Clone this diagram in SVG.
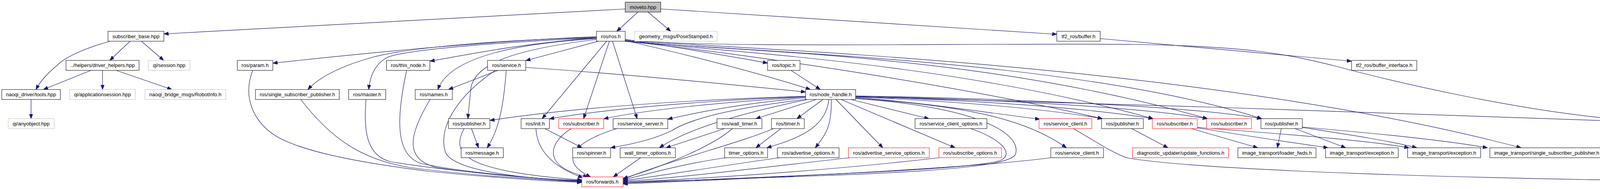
<svg xmlns="http://www.w3.org/2000/svg" width="4652" height="485" viewBox="0 0 4652 485">
<defs>
<marker id="a" markerWidth="13" markerHeight="10" refX="12" refY="4.5" orient="auto" markerUnits="userSpaceOnUse"><path d="M0,0 L12,4.5 L0,9 z" fill="#191970" stroke="#191970" stroke-width="1"/></marker>
<style>
.e path{fill:none;stroke:#191970;stroke-width:1.2;marker-end:url(#a)}
.node rect{fill:#fff;stroke:#000;stroke-width:1}
.node.g rect{stroke:#bfbfbf}
.node.r rect{stroke:#ff0000}
.node.m rect{fill:#bfbfbf}
.node text{font-family:"Liberation Sans",Arial,sans-serif;font-size:13px;text-anchor:middle;fill:#000}
</style>
</defs>
<rect x="0" y="0" width="4652" height="485" fill="#fff"/>
<g id="edges" class="e">
<path d="M1600.5,23 L419.5,87"/>
<path d="M1633,31 L1579,80.25"/>
<path d="M1659,31 L1717,80.25"/>
<path d="M1692,23 L2705.5,88"/>
<path d="M333,105.75 L281,155"/>
<path d="M362,105.75 L419,155"/>
<path d="M282,105.75 C230,120 180,140 155,160 C125,185 105,205 92,229.75"/>
<path d="M233,180.5 L111,229.75"/>
<path d="M262.5,180.5 L262.5,229.75"/>
<path d="M297,180.5 L440,229.75"/>
<path d="M79.5,255.25 L79.5,304.5"/>
<path d="M1527,94 C1250,105 950,135 698.5,162"/>
<path d="M1527,96 C1300,102 1050,120 950,148 C880,168 820,195 788,229.75"/>
<path d="M1527,97 C1280,108 1030,128 990,148 C960,165 947,195 944,229.75"/>
<path d="M1527,97 C1330,112 1200,140 1100.5,157"/>
<path d="M1527,99 C1310,112 1150,150 1121,229.75"/>
<path d="M1528,101 C1330,125 1212,160 1205,230 C1202,265 1199,285 1198,304.5"/>
<path d="M1532,105.75 L1346,155.5"/>
<path d="M1553,105.75 L1388,304.5"/>
<path d="M1560,105.75 L1494,304.5"/>
<path d="M1568,105.75 L1631,304.5"/>
<path d="M1600.5,101 C1750,125 1880,145 1965,162"/>
<path d="M1600.5,104 C1800,150 1950,190 2075,229.75"/>
<path d="M1600.5,102 C1800,125 2500,110 2900,114 C3200,118 3300,140 3420,170 C3550,205 3900,290 4179,309"/>
<path d="M1600.5,104 C2000,130 3100,170 3894,379.25"/>
<path d="M1600.5,105 C1900,135 2750,150 3230,304.5"/>
<path d="M1600.5,105 C1900,135 2500,135 3091,304.5"/>
<path d="M1600.5,106 C1900,135 2450,165 2952,304.5"/>
<path d="M1600.5,106 C1880,135 2420,212 2822,304.5"/>
<path d="M1346,173 C1600,190 1850,215 2062.5,236"/>
<path d="M2025,180.5 L2100,229.75"/>
<path d="M2062.5,247 C1800,255 1500,272 1254,309"/>
<path d="M2062.5,248 C1800,258 1550,280 1406.5,305"/>
<path d="M2062.5,249 C1850,262 1650,282 1545.5,305"/>
<path d="M2062.5,251 C1900,265 1790,287 1709.5,306"/>
<path d="M2064,255 C1850,280 1760,310 1720,335 C1680,355 1620,370 1563,379.25"/>
<path d="M2068,255.25 C1900,290 1760,330 1688,379.25"/>
<path d="M2090,255.25 L1935,304.5"/>
<path d="M2107,255.25 L2040,304.5"/>
<path d="M2122,255.25 C2115,320 2060,352 1963,379.25"/>
<path d="M2128,255.25 C2130,320 2115,345 2087,379.25"/>
<path d="M2140,255.25 L2260,379.25"/>
<path d="M2153,255.25 L2445,379.25"/>
<path d="M2178,255.25 L2378,304.5"/>
<path d="M2190.5,250 C2350,262 2500,285 2662,306"/>
<path d="M2190.5,249 C2400,258 2650,275 2822,304.5"/>
<path d="M2190.5,248 C2450,256 2750,272 2952,304.5"/>
<path d="M2190.5,247 C2500,254 2900,272 3091,304.5"/>
<path d="M2190.5,246 C2550,252 3050,272 3230,304.5"/>
<path d="M2190.5,252 C2450,270 2620,300 2730,379.25"/>
<path d="M2190.5,253 C2500,275 2615,340 2600,395 C2585,440 2200,448 1595,468"/>
<path d="M2190.5,248 C2800,262 3600,293 4179,312"/>
<path d="M647,180.5 C620,250 650,310 700,345 C760,385 900,415 1100,440 C1250,455 1400,465 1489.5,468"/>
<path d="M770,255.25 C850,360 930,410 1050,430 C1200,450 1400,462 1489.5,467"/>
<path d="M937,255.25 C930,340 940,400 1000,415 C1150,440 1400,460 1489.5,466"/>
<path d="M1041,180.5 C1015,300 1010,400 1080,420 C1200,445 1400,460 1489.5,465"/>
<path d="M1101,255.25 C1050,340 1030,410 1120,430 C1250,450 1400,460 1489.5,464"/>
<path d="M1268,180.5 C1180,240 1120,320 1140,390 C1160,440 1350,460 1489.5,463"/>
<path d="M1188,330 C1150,400 1200,440 1489.5,462"/>
<path d="M1372,330 C1375,390 1420,430 1492,456"/>
<path d="M1462,330 C1400,370 1390,430 1505,454"/>
<path d="M1579,330 C1480,360 1420,410 1512,454"/>
<path d="M1640,404.75 L1570,454"/>
<path d="M1875,330 C1830,370 1720,420 1595,458"/>
<path d="M1980,330 C1900,365 1720,410 1595,460"/>
<path d="M1858,404.75 C1750,420 1650,448 1595,462"/>
<path d="M1995,404.75 C1850,425 1700,450 1595,464"/>
<path d="M2175,404.75 C1950,430 1750,455 1595,466"/>
<path d="M2405,404.75 C2100,440 1800,458 1595,468"/>
<path d="M2485,330 C2560,355 2600,395 2560,412 C2500,432 2200,445 1595,470"/>
<path d="M2690,404.75 C2500,430 2000,455 1595,472"/>
<path d="M1296,180.5 C1290,260 1280,330 1247,379.25"/>
<path d="M1275,180.5 L1148,229.75"/>
<path d="M1207,330 L1225,379.25"/>
<path d="M1395,330 L1490,379.25"/>
<path d="M1855,330 L1705,379.25"/>
<path d="M1999,330 L1935,379.25"/>
<path d="M2816.5,99 L3460,157"/>
<path d="M2748,330 C2800,360 2860,400 2890,406 C3100,440 3800,458 4316.5,465"/>
<path d="M2897,330 L2990,379.25"/>
<path d="M3050,330 L3220,379.25"/>
<path d="M3065,328 C3200,350 3300,365 3400,379.25"/>
<path d="M3065,327 C3300,345 3500,360 3607,379.25"/>
<path d="M3280,330 L3270,379.25"/>
<path d="M3315,330 L3445,379.25"/>
<path d="M3334,327 C3450,345 3550,360 3627,379.25"/>
<path d="M3334,326 C3550,345 3700,360 3808,379.25"/>
<path d="M4249,330 L4249,379.25"/>
<path d="M4297,330 C4360,355 4400,400 4405,454"/>
<path d="M4297,330 L4497,379.25"/>
<path d="M4522,404.75 L4430,454"/>
</g>
<g id="n_moveto" class="node m"><rect x="1600.5" y="5.5" width="91" height="25.5"/><text x="1646" y="22.8">moveto.hpp</text></g>
<g id="n_subscriber_base" class="node"><rect x="276.5" y="80.25" width="143" height="25.5"/><text x="348" y="97.55">subscriber_base.hpp</text></g>
<g id="n_ros_ros" class="node"><rect x="1527" y="80.25" width="73.5" height="25.5"/><text x="1563.75" y="97.55">ros/ros.h</text></g>
<g id="n_posestamped" class="node g"><rect x="1624.5" y="80.25" width="211.5" height="25.5"/><text x="1730.25" y="97.55">geometry_msgs/PoseStamped.h</text></g>
<g id="n_tf2_buffer" class="node"><rect x="2705.5" y="80.25" width="111" height="25.5"/><text x="2761" y="97.55">tf2_ros/buffer.h</text></g>
<g id="n_driver_helpers" class="node"><rect x="169" y="155" width="187" height="25.5"/><text x="262.5" y="172.3">../helpers/driver_helpers.hpp</text></g>
<g id="n_qi_session" class="node g"><rect x="379.5" y="155" width="107" height="25.5"/><text x="433" y="172.3">qi/session.hpp</text></g>
<g id="n_param" class="node"><rect x="607.5" y="155" width="91" height="25.5"/><text x="653" y="172.3">ros/param.h</text></g>
<g id="n_this_node" class="node"><rect x="989.5" y="155" width="111" height="25.5"/><text x="1045" y="172.3">ros/this_node.h</text></g>
<g id="n_service" class="node"><rect x="1248" y="155" width="98" height="25.5"/><text x="1297" y="172.3">ros/service.h</text></g>
<g id="n_topic" class="node"><rect x="1965" y="155" width="83" height="25.5"/><text x="2006.5" y="172.3">ros/topic.h</text></g>
<g id="n_buffer_interface" class="node"><rect x="3460" y="155" width="167" height="25.5"/><text x="3543.5" y="172.3">tf2_ros/buffer_interface.h</text></g>
<g id="n_tools" class="node"><rect x="4.5" y="229.75" width="150" height="25.5"/><text x="79.5" y="247.05">naoqi_driver/tools.hpp</text></g>
<g id="n_appsession" class="node g"><rect x="178.5" y="229.75" width="168" height="25.5"/><text x="262.5" y="247.05">qi/applicationsession.hpp</text></g>
<g id="n_robotinfo" class="node g"><rect x="371" y="229.75" width="207" height="25.5"/><text x="474.5" y="247.05">naoqi_bridge_msgs/RobotInfo.h</text></g>
<g id="n_ss_pub" class="node"><rect x="654" y="229.75" width="214.5" height="25.5"/><text x="761.25" y="247.05">ros/single_subscriber_publisher.h</text></g>
<g id="n_master" class="node"><rect x="892.5" y="229.75" width="95" height="25.5"/><text x="940" y="247.05">ros/master.h</text></g>
<g id="n_names" class="node"><rect x="1063" y="229.75" width="95" height="25.5"/><text x="1110.5" y="247.05">ros/names.h</text></g>
<g id="n_node_handle" class="node"><rect x="2062.5" y="229.75" width="128" height="25.5"/><text x="2126.5" y="247.05">ros/node_handle.h</text></g>
<g id="n_anyobject" class="node g"><rect x="21" y="304.5" width="117.5" height="25.5"/><text x="79.75" y="321.8">qi/anyobject.hpp</text></g>
<g id="n_publisher_a" class="node"><rect x="1148" y="304.5" width="106" height="25.5"/><text x="1201" y="321.8">ros/publisher.h</text></g>
<g id="n_init" class="node"><rect x="1334" y="304.5" width="72.5" height="25.5"/><text x="1370.25" y="321.8">ros/init.h</text></g>
<g id="n_subscriber_a" class="node r"><rect x="1430.5" y="304.5" width="115" height="25.5"/><text x="1488" y="321.8">ros/subscriber.h</text></g>
<g id="n_service_server_a" class="node"><rect x="1569.5" y="304.5" width="140" height="25.5"/><text x="1639.5" y="321.8">ros/service_server.h</text></g>
<g id="n_wall_timer" class="node"><rect x="1835.5" y="304.5" width="115" height="25.5"/><text x="1893" y="321.8">ros/wall_timer.h</text></g>
<g id="n_timer" class="node"><rect x="1975" y="304.5" width="84" height="25.5"/><text x="2017" y="321.8">ros/timer.h</text></g>
<g id="n_sco" class="node"><rect x="2342.5" y="304.5" width="184" height="25.5"/><text x="2434.5" y="321.8">ros/service_client_options.h</text></g>
<g id="n_service_client_a" class="node r"><rect x="2660" y="304.5" width="135" height="25.5"/><text x="2727.5" y="321.8">ros/service_client.h</text></g>
<g id="n_publisher_b" class="node"><rect x="2820" y="304.5" width="107" height="25.5"/><text x="2873.5" y="321.8">ros/publisher.h</text></g>
<g id="n_subscriber_b" class="node r"><rect x="2950" y="304.5" width="115" height="25.5"/><text x="3007.5" y="321.8">ros/subscriber.h</text></g>
<g id="n_subscriber_c" class="node r"><rect x="3089" y="304.5" width="115" height="25.5"/><text x="3146.5" y="321.8">ros/subscriber.h</text></g>
<g id="n_publisher_c" class="node"><rect x="3228" y="304.5" width="106" height="25.5"/><text x="3281" y="321.8">ros/publisher.h</text></g>
<g id="n_service_server_b" class="node"><rect x="4179" y="304.5" width="140" height="25.5"/><text x="4249" y="321.8">ros/service_server.h</text></g>
<g id="n_message" class="node"><rect x="1180.5" y="379.25" width="108" height="25.5"/><text x="1234.5" y="396.55">ros/message.h</text></g>
<g id="n_spinner" class="node"><rect x="1466" y="379.25" width="97" height="25.5"/><text x="1514.5" y="396.55">ros/spinner.h</text></g>
<g id="n_wto" class="node"><rect x="1587.5" y="379.25" width="141.5" height="25.5"/><text x="1658.25" y="396.55">wall_timer_options.h</text></g>
<g id="n_timer_options" class="node"><rect x="1855" y="379.25" width="110" height="25.5"/><text x="1910" y="396.55">timer_options.h</text></g>
<g id="n_adv_opts" class="node"><rect x="1990" y="379.25" width="158" height="25.5"/><text x="2069" y="396.55">ros/advertise_options.h</text></g>
<g id="n_adv_srv_opts" class="node r"><rect x="2172" y="379.25" width="207" height="25.5"/><text x="2275.5" y="396.55">ros/advertise_service_options.h</text></g>
<g id="n_sub_opts" class="node r"><rect x="2403.5" y="379.25" width="160.5" height="25.5"/><text x="2483.75" y="396.55">ros/subscribe_options.h</text></g>
<g id="n_service_client_b" class="node"><rect x="2690" y="379.25" width="135" height="25.5"/><text x="2757.5" y="396.55">ros/service_client.h</text></g>
<g id="n_diag" class="node r"><rect x="2899.5" y="379.25" width="246" height="25.5"/><text x="3022.5" y="396.55">diagnostic_updater/update_functions.h</text></g>
<g id="n_loader" class="node"><rect x="3169" y="379.25" width="200" height="25.5"/><text x="3269" y="396.55">image_transport/loader_fwds.h</text></g>
<g id="n_exc_a" class="node"><rect x="3393.5" y="379.25" width="186" height="25.5"/><text x="3486.5" y="396.55">image_transport/exception.h</text></g>
<g id="n_exc_b" class="node"><rect x="3603.5" y="379.25" width="187" height="25.5"/><text x="3697" y="396.55">image_transport/exception.h</text></g>
<g id="n_it_ssp" class="node"><rect x="3814" y="379.25" width="291" height="25.5"/><text x="3959.5" y="396.55">image_transport/single_subscriber_publisher.h</text></g>
<g id="n_ss_imp" class="node"><rect x="4129" y="379.25" width="239.5" height="25.5"/><text x="4248.75" y="396.55">actionlib/server/service_server_imp.h</text></g>
<g id="n_action_server" class="node r"><rect x="4443.5" y="379.25" width="203" height="25.5"/><text x="4545" y="396.55">actionlib/server/action_server.h</text></g>
<g id="n_forwards" class="node r"><rect x="1489.5" y="454" width="105.5" height="25.5"/><text x="1542.25" y="471.3">ros/forwards.h</text></g>
<g id="n_action_def" class="node"><rect x="4316.5" y="454" width="179.5" height="25.5"/><text x="4406.25" y="471.3">actionlib/action_definition.h</text></g>
</svg>
